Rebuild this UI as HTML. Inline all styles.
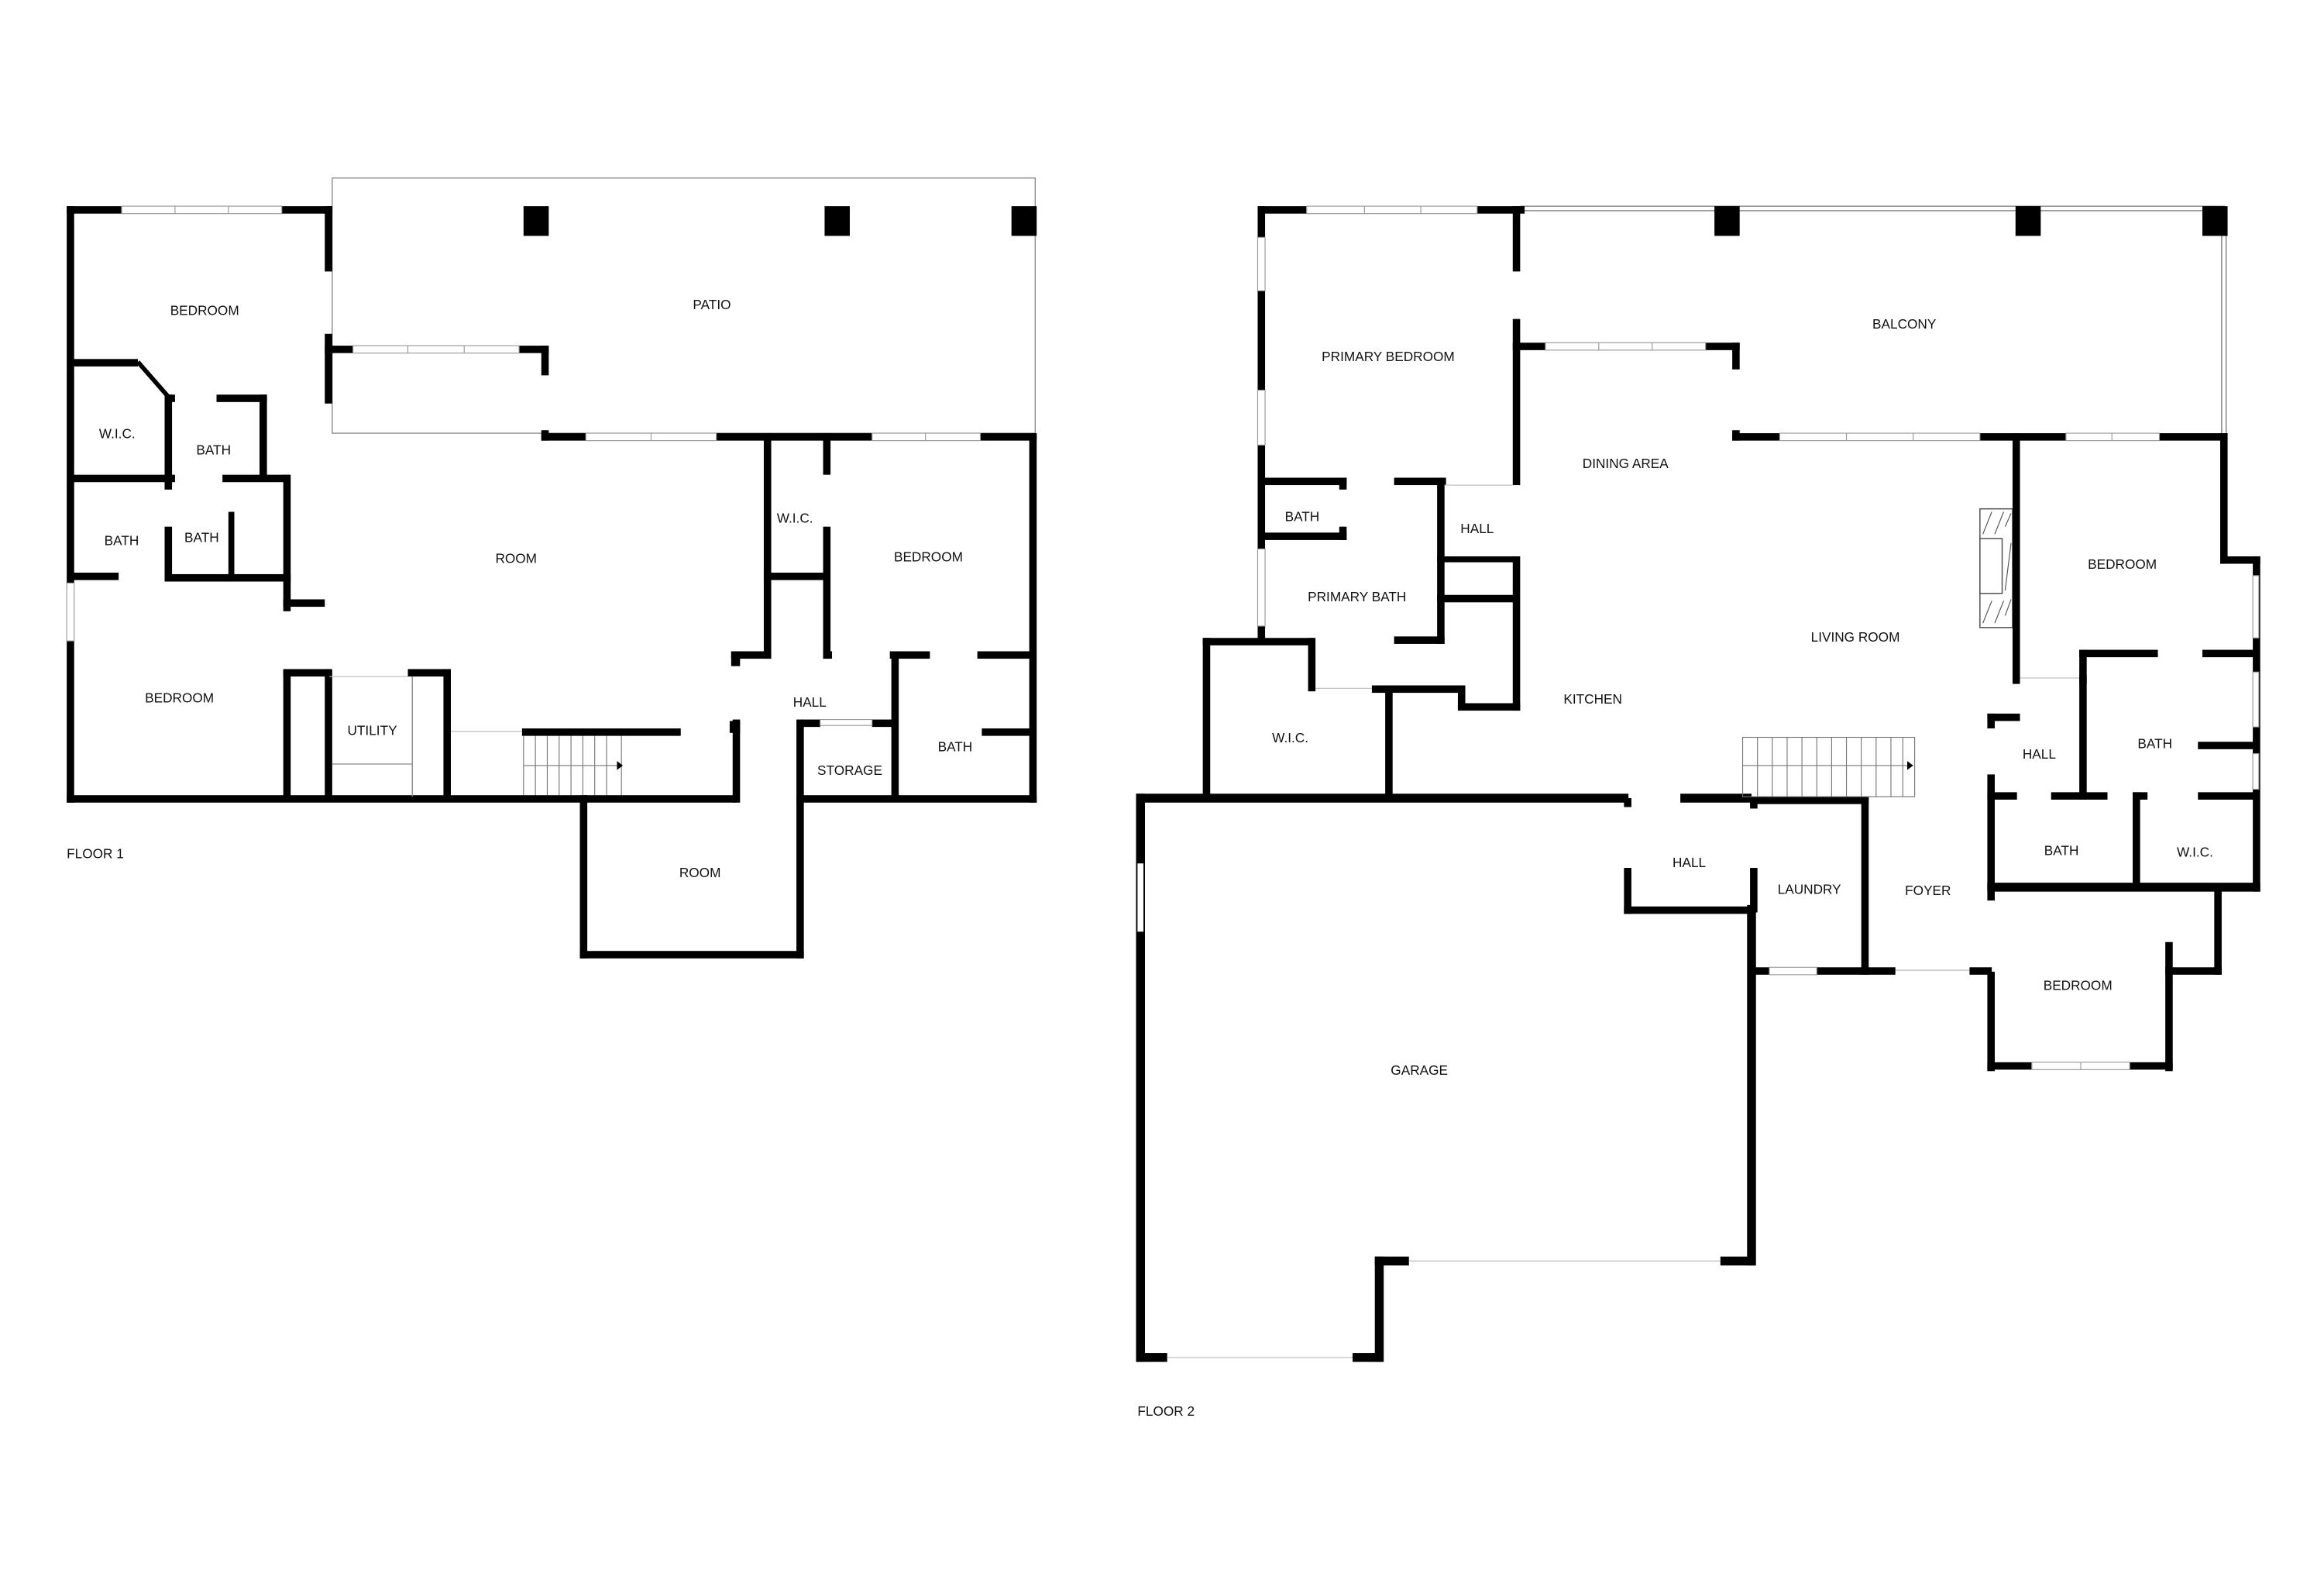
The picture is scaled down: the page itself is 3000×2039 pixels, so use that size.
<!DOCTYPE html>
<html><head><meta charset="utf-8"><style>
html,body{margin:0;padding:0;background:#fff;}
svg{display:block}
text{font-family:"Liberation Sans",sans-serif;font-size:9px;fill:#111;text-anchor:middle;dominant-baseline:middle}
.w{fill:#000}
.win{fill:#fff;stroke:#999;stroke-width:0.6}
.d{fill:#fff}
.t{fill:none;stroke:#888;stroke-width:0.7}
</style></head><body>
<svg width="3000" height="2039" viewBox="0 0 1567 1065" preserveAspectRatio="none" xmlns="http://www.w3.org/2000/svg">
<rect width="1570" height="1070" fill="#fff"/>
<!-- ================= FLOOR 1 ================= -->
<rect class="t" x="224" y="120" width="474" height="172"/>
<rect class="w" x="353" y="139" width="17" height="20"/>
<rect class="w" x="556" y="139" width="17" height="20"/>
<rect class="w" x="682" y="139" width="17" height="20"/>
<rect class="w" x="45" y="139" width="5" height="402"/>
<rect class="w" x="45" y="139" width="179" height="5"/>
<rect class="win" x="82" y="139" width="108" height="5"/><line x1="118" y1="139" x2="118" y2="144" stroke="#999" stroke-width=".6"/><line x1="154" y1="139" x2="154" y2="144" stroke="#999" stroke-width=".6"/>
<rect class="w" x="219" y="139" width="5" height="44"/>
<rect class="w" x="219" y="225" width="5" height="47"/>
<rect class="w" x="219" y="233" width="151" height="5"/>
<rect class="win" x="238" y="233" width="112" height="5"/><line x1="275" y1="233" x2="275" y2="238" stroke="#999" stroke-width=".6"/><line x1="313" y1="233" x2="313" y2="238" stroke="#999" stroke-width=".6"/>
<rect class="w" x="365" y="233" width="5" height="20"/>
<rect class="w" x="365" y="290" width="5" height="7"/>
<rect class="w" x="365" y="292" width="334" height="5"/>
<rect class="win" x="395" y="292" width="88" height="5"/><line x1="439" y1="292" x2="439" y2="297" stroke="#999" stroke-width=".6"/>
<rect class="win" x="588" y="292" width="73" height="5"/><line x1="624" y1="292" x2="624" y2="297" stroke="#999" stroke-width=".6"/>
<rect class="w" x="694" y="292" width="5" height="249"/>
<rect class="w" x="45" y="536" width="451" height="5"/>
<rect class="w" x="537" y="536" width="162" height="5"/>
<rect class="win" x="45" y="393" width="5" height="39"/>
<rect class="w" x="391" y="536" width="5" height="110"/>
<rect class="w" x="391" y="641" width="151" height="5"/>
<rect class="w" x="537" y="485" width="5" height="161"/>
<rect class="w" x="494" y="485" width="5" height="56"/>
<rect class="w" x="47" y="242" width="46" height="5"/>
<line x1="93" y1="244" x2="114" y2="268" stroke="#000" stroke-width="3"/>
<rect class="w" x="111" y="266" width="7" height="5"/>
<rect class="w" x="146" y="266" width="34" height="5"/>
<rect class="w" x="111" y="266" width="5" height="58"/>
<rect class="w" x="175" y="266" width="5" height="57"/>
<rect class="w" x="47" y="320" width="71" height="5"/>
<rect class="w" x="150" y="320" width="45" height="5"/>
<rect class="w" x="191" y="320" width="5" height="92"/>
<rect class="w" x="111" y="320" width="5" height="10"/>
<rect class="w" x="111" y="355" width="5" height="36"/>
<rect class="w" x="154" y="345" width="4" height="45"/>
<rect class="w" x="111" y="387" width="85" height="5"/>
<rect class="w" x="47" y="386" width="33" height="5"/>
<rect class="w" x="191" y="404" width="28" height="5"/>
<rect class="w" x="191" y="452" width="5" height="88"/>
<rect class="w" x="191" y="451" width="31" height="5"/>
<rect class="w" x="219" y="451" width="5" height="89"/>
<rect class="w" x="275" y="451" width="28" height="5"/>
<rect class="w" x="299" y="451" width="5" height="89"/>
<line x1="222" y1="456" x2="275" y2="456" stroke="#bbb" stroke-width=".6"/>
<line x1="224" y1="515" x2="278" y2="515" stroke="#888" stroke-width=".7"/>
<line x1="278" y1="456" x2="278" y2="537" stroke="#888" stroke-width=".7"/>
<rect class="w" x="352" y="491" width="107" height="5"/>
<line x1="304" y1="493" x2="352" y2="493" stroke="#bbb" stroke-width=".6"/>
<g stroke="#777" stroke-width=".6">
<line x1="353" y1="496" x2="353" y2="536"/><line x1="361" y1="496" x2="361" y2="536"/><line x1="369" y1="496" x2="369" y2="536"/><line x1="377" y1="496" x2="377" y2="536"/><line x1="385" y1="496" x2="385" y2="536"/><line x1="393" y1="496" x2="393" y2="536"/><line x1="401" y1="496" x2="401" y2="536"/><line x1="409" y1="496" x2="409" y2="536"/><line x1="419" y1="496" x2="419" y2="536"/>
<line x1="353" y1="516" x2="418" y2="516"/></g>
<polygon points="416,513 420,516 416,519" fill="#000"/>
<rect class="w" x="493" y="439" width="27" height="5"/>
<rect class="w" x="493" y="439" width="6" height="10"/>
<rect class="w" x="555" y="439" width="6" height="5"/>
<rect class="w" x="600" y="439" width="27" height="5"/>
<rect class="w" x="659" y="439" width="38" height="5"/>
<rect class="w" x="515" y="292" width="5" height="152"/>
<rect class="w" x="555" y="292" width="5" height="28"/>
<rect class="w" x="555" y="355" width="5" height="89"/>
<rect class="w" x="515" y="386" width="44" height="5"/>
<rect class="w" x="601" y="439" width="5" height="101"/>
<rect class="w" x="662" y="491" width="34" height="5"/>
<rect class="w" x="540" y="485" width="13" height="5"/>
<rect class="w" x="588" y="485" width="17" height="5"/>
<rect class="win" x="553" y="485" width="35" height="4"/>
<rect class="w" x="492" y="486" width="7" height="8"/>
<text x="138" y="210">BEDROOM</text>
<text x="480" y="206">PATIO</text>
<text x="79" y="293">W.I.C.</text>
<text x="144" y="304">BATH</text>
<text x="82" y="365">BATH</text>
<text x="136" y="363">BATH</text>
<text x="348" y="377">ROOM</text>
<text x="536" y="350">W.I.C.</text>
<text x="626" y="376">BEDROOM</text>
<text x="121" y="471">BEDROOM</text>
<text x="251" y="493">UTILITY</text>
<text x="546" y="474">HALL</text>
<text x="573" y="520">STORAGE</text>
<text x="644" y="504">BATH</text>
<text x="472" y="589">ROOM</text>
<text x="45" y="576" style="text-anchor:start">FLOOR 1</text>
<!-- ================= FLOOR 2 ================= -->
<line x1="1025" y1="139" x2="1500" y2="139" stroke="#777" stroke-width=".7"/>
<line x1="1025" y1="142" x2="1500" y2="142" stroke="#777" stroke-width=".7"/>
<line x1="1498" y1="140" x2="1498" y2="292" stroke="#777" stroke-width=".7"/>
<line x1="1501" y1="140" x2="1501" y2="292" stroke="#777" stroke-width=".7"/>
<rect class="w" x="1156" y="139" width="17" height="20"/>
<rect class="w" x="1359" y="139" width="17" height="20"/>
<rect class="w" x="1485" y="139" width="17" height="20"/>
<rect class="w" x="848" y="139" width="180" height="5"/>
<rect class="win" x="881" y="139" width="115" height="5"/><line x1="920" y1="139" x2="920" y2="144" stroke="#999" stroke-width=".6"/><line x1="958" y1="139" x2="958" y2="144" stroke="#999" stroke-width=".6"/>
<rect class="w" x="848" y="139" width="5" height="295"/>
<rect class="win" x="848" y="160" width="5" height="36"/>
<rect class="win" x="848" y="263" width="5" height="37"/>
<rect class="win" x="848" y="370" width="5" height="52"/>
<rect class="w" x="1020" y="139" width="5" height="44"/>
<rect class="w" x="1020" y="215" width="5" height="112"/>
<rect class="w" x="1020" y="375" width="5" height="104"/>
<rect class="w" x="1020" y="231" width="153" height="5"/>
<rect class="win" x="1042" y="231" width="108" height="5"/><line x1="1078" y1="231" x2="1078" y2="236" stroke="#999" stroke-width=".6"/><line x1="1114" y1="231" x2="1114" y2="236" stroke="#999" stroke-width=".6"/>
<rect class="w" x="1168" y="231" width="5" height="18"/>
<rect class="w" x="1168" y="290" width="5" height="7"/>
<rect class="w" x="1168" y="292" width="334" height="5"/>
<rect class="win" x="1200" y="292" width="135" height="5"/><line x1="1245" y1="292" x2="1245" y2="297" stroke="#999" stroke-width=".6"/><line x1="1290" y1="292" x2="1290" y2="297" stroke="#999" stroke-width=".6"/>
<rect class="win" x="1393" y="292" width="63" height="5"/><line x1="1424" y1="292" x2="1424" y2="297" stroke="#999" stroke-width=".6"/>
<rect class="w" x="1497" y="292" width="5" height="88"/>
<rect class="w" x="1497" y="375" width="27" height="5"/>
<rect class="w" x="1519" y="375" width="5" height="226"/>
<rect class="win" x="1519" y="388" width="4" height="42"/>
<rect class="win" x="1519" y="453" width="4" height="37"/>
<rect class="win" x="1519" y="508" width="4" height="24"/>
<rect class="w" x="850" y="322" width="58" height="5"/>
<rect class="w" x="940" y="322" width="35" height="5"/>
<rect class="w" x="903" y="322" width="5" height="8"/>
<rect class="w" x="903" y="355" width="5" height="9"/>
<rect class="w" x="850" y="359" width="58" height="5"/>
<rect class="w" x="969" y="322" width="5" height="112"/>
<rect class="w" x="940" y="429" width="34" height="5"/>
<rect class="w" x="969" y="375" width="55" height="4"/>
<rect class="w" x="969" y="401" width="55" height="5"/>
<line x1="974" y1="327" x2="1020" y2="327" stroke="#bbb" stroke-width=".6"/>
<rect class="w" x="811" y="430" width="75" height="5"/>
<rect class="w" x="811" y="430" width="5" height="110"/>
<rect class="w" x="882" y="430" width="5" height="36"/>
<rect class="w" x="925" y="462" width="60" height="5"/>
<rect class="w" x="934" y="462" width="5" height="78"/>
<rect class="w" x="983" y="462" width="5" height="16"/>
<rect class="w" x="983" y="474" width="42" height="5"/>
<line x1="887" y1="464" x2="925" y2="464" stroke="#bbb" stroke-width=".6"/>
<rect class="w" x="766" y="535" width="332" height="6"/>
<rect class="w" x="1133" y="535" width="48" height="6"/>
<rect class="w" x="766" y="535" width="6" height="383"/>
<rect class="d" x="767" y="582" width="4" height="46"/>
<rect class="w" x="766" y="912" width="21" height="6"/>
<rect class="w" x="912" y="912" width="20" height="6"/>
<line x1="787" y1="915" x2="912" y2="915" stroke="#bbb" stroke-width=".6"/>
<rect class="w" x="927" y="847" width="6" height="71"/>
<rect class="w" x="927" y="847" width="23" height="6"/>
<rect class="w" x="1160" y="847" width="23" height="6"/>
<line x1="950" y1="850" x2="1160" y2="850" stroke="#bbb" stroke-width=".6"/>
<rect class="w" x="1178" y="610" width="6" height="243"/>
<rect class="w" x="1095" y="538" width="5" height="6"/>
<rect class="w" x="1095" y="585" width="5" height="31"/>
<rect class="w" x="1095" y="611" width="88" height="5"/>
<rect class="w" x="1180" y="537" width="5" height="8"/>
<rect class="w" x="1180" y="585" width="5" height="30"/>
<rect class="w" x="1180" y="537" width="80" height="5"/>
<rect class="w" x="1255" y="537" width="5" height="120"/>
<rect class="w" x="1180" y="652" width="98" height="5"/>
<rect class="win" x="1193" y="652" width="32" height="5"/>
<rect class="w" x="1328" y="652" width="15" height="5"/>
<line x1="1278" y1="654" x2="1328" y2="654" stroke="#bbb" stroke-width=".6"/>
<g stroke="#777" stroke-width=".6">
<rect x="1175" y="497" width="116" height="40" fill="none"/>
<line x1="1185" y1="497" x2="1185" y2="537"/><line x1="1195" y1="497" x2="1195" y2="537"/><line x1="1205" y1="497" x2="1205" y2="537"/><line x1="1215" y1="497" x2="1215" y2="537"/><line x1="1225" y1="497" x2="1225" y2="537"/><line x1="1235" y1="497" x2="1235" y2="537"/><line x1="1245" y1="497" x2="1245" y2="537"/><line x1="1255" y1="497" x2="1255" y2="537"/><line x1="1265" y1="497" x2="1265" y2="537"/><line x1="1275" y1="497" x2="1275" y2="537"/><line x1="1283" y1="497" x2="1283" y2="537"/>
<line x1="1175" y1="516" x2="1290" y2="516"/></g>
<polygon points="1286,513 1290,516 1286,519" fill="#000"/>
<rect x="1335" y="343" width="22" height="80" fill="#fff" stroke="#555" stroke-width=".8"/>
<g stroke="#555" stroke-width=".6">
<line x1="1337" y1="360" x2="1343" y2="345"/><line x1="1345" y1="360" x2="1351" y2="345"/><line x1="1352" y1="355" x2="1356" y2="346"/>
<line x1="1337" y1="420" x2="1343" y2="405"/><line x1="1345" y1="420" x2="1351" y2="405"/><line x1="1352" y1="415" x2="1356" y2="404"/>
<line x1="1352" y1="398" x2="1356" y2="366"/></g>
<rect x="1335" y="363" width="15" height="37" fill="#fff" stroke="#555" stroke-width=".8"/>
<rect class="w" x="1357" y="292" width="5" height="164"/>
<rect class="w" x="1357" y="455" width="5" height="6"/>
<rect class="w" x="1402" y="455" width="5" height="6"/>
<line x1="1362" y1="457" x2="1402" y2="457" stroke="#bbb" stroke-width=".6"/>
<rect class="w" x="1340" y="481" width="22" height="5"/>
<rect class="w" x="1340" y="481" width="5" height="10"/>
<rect class="w" x="1340" y="522" width="5" height="78"/>
<rect class="w" x="1402" y="438" width="5" height="101"/>
<rect class="w" x="1402" y="438" width="53" height="5"/>
<rect class="w" x="1485" y="438" width="38" height="5"/>
<rect class="w" x="1482" y="500" width="40" height="5"/>
<rect class="w" x="1340" y="534" width="20" height="5"/>
<rect class="w" x="1383" y="534" width="38" height="5"/>
<rect class="w" x="1438" y="534" width="10" height="5"/>
<rect class="w" x="1482" y="534" width="40" height="5"/>
<rect class="w" x="1438" y="534" width="5" height="66"/>
<rect class="w" x="1340" y="595" width="184" height="6"/>
<rect class="w" x="1340" y="595" width="5" height="12"/>
<rect class="w" x="1340" y="655" width="5" height="67"/>
<rect class="w" x="1340" y="716" width="125" height="5"/>
<rect class="win" x="1370" y="716" width="66" height="5"/><line x1="1403" y1="716" x2="1403" y2="721" stroke="#999" stroke-width=".6"/>
<rect class="w" x="1460" y="635" width="5" height="87"/>
<rect class="w" x="1460" y="652" width="38" height="5"/>
<rect class="w" x="1493" y="597" width="5" height="60"/>
<text x="936" y="241">PRIMARY BEDROOM</text>
<text x="1284" y="219">BALCONY</text>
<text x="1096" y="313">DINING AREA</text>
<text x="878" y="349">BATH</text>
<text x="996" y="357">HALL</text>
<text x="915" y="403">PRIMARY BATH</text>
<text x="1431" y="381">BEDROOM</text>
<text x="1251" y="430">LIVING ROOM</text>
<text x="1074" y="472">KITCHEN</text>
<text x="870" y="498">W.I.C.</text>
<text x="1375" y="509">HALL</text>
<text x="1453" y="502">BATH</text>
<text x="1390" y="574">BATH</text>
<text x="1480" y="575">W.I.C.</text>
<text x="1139" y="582">HALL</text>
<text x="1220" y="600">LAUNDRY</text>
<text x="1300" y="601">FOYER</text>
<text x="1401" y="665">BEDROOM</text>
<text x="957" y="722">GARAGE</text>
<text x="767" y="952" style="text-anchor:start">FLOOR 2</text>
</svg>
</body></html>
